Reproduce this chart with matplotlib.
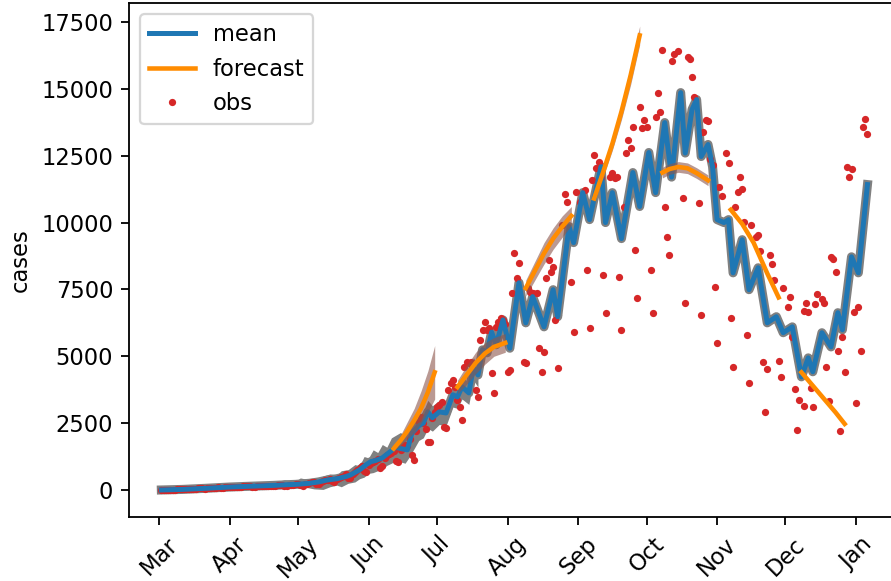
import numpy as np
import pandas as pd
import matplotlib
matplotlib.use('Agg')
import matplotlib.pyplot as plt
import matplotlib.dates as mdates

start = pd.Timestamp('2020-03-01')

# daily reported cases, Mon 2 Mar .. Sun 2 Aug (one row per week, Mon..Sun)
obs_early = [
    0, 5, 10, 10, 15, 10, 10,
    20, 25, 30, 35, 40, 30, 30,
    45, 50, 55, 60, 65, 50, 55,
    70, 75, 80, 90, 95, 75, 80,
    100, 105, 110, 120, 125, 100, 105,
    125, 130, 140, 145, 150, 120, 125,
    140, 150, 145, 160, 165, 130, 140,
    155, 160, 170, 175, 180, 140, 150,
    170, 185, 195, 205, 215, 170, 165,
    220, 240, 260, 280, 300, 230, 220,
    300, 330, 360, 390, 420, 320, 300,
    420, 460, 500, 540, 580, 450, 430,
    600, 680, 760, 820, 900, 700, 680,
    950, 1000, 1050, 1100, 1150, 820, 900,
    1200, 1300, 1350, 1400, 1450, 1100, 1050,
    1500, 1600, 1700, 1650, 1900, 1310, 1120,
    2200, 2550, 2730, 2500, 2280, 1800, 1800,
    2700, 2900, 3100, 3180, 3300, 2360, 2320,
    3740, 4000, 4120, 3860, 3370, 3110, 2620,
    4610, 4790, 4750, 4790, 4490, 3740, 3480,
    5620, 5990, 6290, 5990, 6070, 4380, 3630,
    6100, 6290, 6440, 6360, 6200, 4420, 4490,
]

# later reports (day after 1 Mar, cases)
obs_late_day = [
    155, 156, 157, 158, 160, 161, 162, 163, 164, 166, 167, 168, 169, 170,
    171, 172, 173, 174, 175, 177, 178, 179, 181, 182, 183, 185, 187, 188,
    189, 190, 191, 192, 193, 194, 195, 196, 198, 199, 200, 201, 202, 203,
    204, 205, 206, 207, 208, 209, 210, 211, 212, 213, 214, 216, 217, 218,
    219, 220, 221, 222, 223, 224, 225, 226, 228, 230, 231, 232, 233, 234,
    235, 237, 238, 239, 240, 241, 242, 243, 244, 245, 246, 247, 249, 250,
    251, 252, 253, 254, 255, 256, 257, 258, 259, 260, 262, 263, 264, 265,
    266, 267, 268, 269, 270, 272, 273, 274, 276, 277, 278, 279, 280, 281,
    283, 283, 284, 285, 286, 287, 288, 289, 291, 292, 293, 294, 295, 296,
    297, 298, 299, 300, 301, 302, 303, 304, 305, 306, 307, 308, 309, 310,
    311,
]
obs_late_val = [
    7380, 8870, 7940, 8500, 4790, 4750, 7560, 7410, 7380, 7380, 5320, 4420, 5170, 7940,
    8610, 8160, 8350, 6360, 4570, 9920, 11050, 10780, 7790, 5920, 11160, 10780, 11230, 8240,
    6070, 11610, 12540, 12050, 12280, 11680, 8050, 6630, 11720, 11870, 11680, 11700, 7970, 5990,
    10600, 12620, 13100, 12800, 13590, 8990, 7190, 14340, 13550, 13850, 13590, 8240, 6630, 13930,
    14860, 14150, 16440, 10600, 9470, 8800, 16060, 16290, 16400, 10930, 7000, 16180, 16100, 15460,
    14680, 10750, 6550, 13370, 13850, 13780, 12360, 12170, 7600, 5500, 11340, 11010, 12620, 12240,
    6440, 4610, 10600, 11160, 11720, 11270, 10030, 5800, 4000, 9920, 9470, 9550, 8950, 4790,
    2920, 4530, 8800, 8460, 7860, 4830, 4230, 7560, 6850, 7230, 5730, 3780, 2250, 3370,
    3150, 6700, 7000, 6660, 3820, 3110, 6960, 7340, 7150, 7000, 4610, 3330, 8720, 8650,
    8160, 5200, 2210, 5730, 4420, 12090, 11720, 12020, 6660, 3260, 6850, 5200, 13590, 13890,
    13330,
]

# fitted mean
mean_day = [1, 10, 20, 31, 40, 50, 57, 60, 66, 70, 74, 78, 82, 84, 88, 91, 93, 95, 98,
            101, 104, 106, 109, 111, 114, 116, 118, 120, 123, 126, 129, 131, 133, 136,
            138, 140, 142, 144, 146, 148, 151, 154, 158, 161, 164, 169, 173, 175, 180,
            182, 186, 189, 194, 196, 199, 203, 208, 211, 215, 218, 222, 225, 229, 231,
            234, 236, 238, 241, 243, 245, 248, 250, 252, 256, 259, 263, 267, 271, 274,
            278, 282, 285, 287, 291, 295, 298, 300, 304, 307, 311]
mean_val = [0, 20, 60, 110, 140, 170, 200, 210, 250, 300, 375, 420, 500, 560, 750, 950,
            1060, 1100, 1200, 1400, 1600, 1550, 1500, 2130, 2400, 2500, 2920, 2700, 2920,
            2880, 3560, 3480, 3860, 3630, 4600, 4300, 5240, 5130, 5900, 5430, 6360, 5300,
            7750, 6250, 7230, 6100, 7490, 6480, 9850, 9250, 11120, 10110, 12090, 10000,
            11120, 9400, 11870, 10600, 12620, 11120, 13740, 11700, 14860, 12600, 14230,
            14600, 12470, 12920, 12090, 10110, 10000, 10110, 8120, 9360, 7490, 8310, 6250,
            6480, 5880, 6100, 4230, 4940, 4420, 5880, 5350, 6630, 5990, 8720, 8120, 11420]

# spread of the sampled trajectories over spring and early summer
spread_day = [1, 20, 40, 50, 55, 60, 62, 65, 68, 72, 75, 78, 80, 83, 86, 88, 90, 92,
              94, 96, 98, 100, 102, 104, 106, 108, 110, 112, 114, 116, 118, 120, 123,
              126, 129, 131, 133, 136, 138, 140]
spread_lo = [-60, 10, 60, 90, 110, 100, 60, 90, 40, 20, 120, 180, 120, 250, 300, 420,
             480, 620, 650, 720, 780, 920, 1000, 1100, 1050, 1000, 1250, 1550, 1850, 1950,
             2300, 2200, 2450, 2400, 3100, 3050, 3400, 3200, 4100, 3850]
spread_hi = [60, 110, 220, 280, 380, 330, 450, 400, 300, 520, 600, 560, 720, 760, 950,
             900, 1250, 1200, 1500, 1400, 1700, 1600, 1950, 2050, 2150, 2000, 2350, 2600,
             2750, 2950, 3350, 3150, 3350, 3300, 3950, 3900, 4250, 4000, 4950, 4650]

# forecasts issued along the way: day, value, lower, upper
fc1_day = [103, 106, 109, 112, 115, 118, 121]
fc1_val = [1550, 1850, 2200, 2600, 3050, 3650, 4400]
fc1_lo = [1450, 1650, 1900, 2150, 2500, 2900, 3400]
fc1_hi = [1650, 2050, 2550, 3050, 3700, 4450, 5400]

fc2_day = [131, 135, 139, 143, 147, 152]
fc2_val = [3850, 4300, 4750, 5100, 5350, 5500]
fc2_lo = [3600, 3950, 4350, 4700, 5000, 5150]
fc2_hi = [4100, 4650, 5150, 5500, 5700, 5850]

fc3_day = [161, 165, 169, 173, 177, 181]
fc3_val = [7550, 8200, 8850, 9400, 9850, 10250]
fc3_lo = [7250, 7850, 8450, 9000, 9450, 9900]
fc3_hi = [7850, 8550, 9250, 9800, 10250, 10600]

fc4_day = [191, 195, 199, 203, 207, 211]
fc4_val = [10900, 11900, 12950, 14150, 15500, 17000]
fc4_lo = [10750, 11700, 12700, 13850, 15150, 16650]
fc4_hi = [11050, 12100, 13200, 14450, 15850, 17350]

fc5_day = [221, 224, 228, 232, 236, 241]
fc5_val = [11870, 12000, 12080, 12030, 11850, 11580]
fc5_lo = [11670, 11800, 11880, 11830, 11650, 11380]
fc5_hi = [12070, 12200, 12280, 12230, 12050, 11780]

fc6_day = [251, 256, 261, 267, 272]
fc6_val = [10480, 9950, 9250, 8100, 7200]
fc6_lo = [10420, 9890, 9190, 8040, 7140]
fc6_hi = [10540, 10010, 9310, 8160, 7260]

fc7_day = [282, 287, 292, 297, 301]
fc7_val = [4400, 3900, 3400, 2900, 2470]
fc7_lo = [4360, 3860, 3360, 2860, 2430]
fc7_hi = [4440, 3940, 3440, 2940, 2510]

yticks = [0, 2500, 5000, 7500, 10000, 12500, 15000, 17500]


def to_dates(days):
    return start + pd.to_timedelta(np.asarray(days, dtype=float), unit='D')


dpi = 163
fig = plt.figure(figsize=(891 / dpi, 581 / dpi), dpi=dpi)
ax = fig.add_axes([129 / 891, 64 / 581, 774 / 891, 514 / 581])

mean_x = to_dates(mean_day)
ax.fill_between(to_dates(spread_day), spread_lo, spread_hi, color='gray', lw=0, zorder=1)
ax.plot(mean_x, mean_val, color='gray', lw=4, zorder=1)

obs_x = to_dates(list(range(1, len(obs_early) + 1)) + obs_late_day)
obs_y = obs_early + obs_late_val
obs_line, = ax.plot(obs_x, obs_y, 'o', color='tab:red', ms=3.2, mew=0, zorder=2, label='obs')

mean_line, = ax.plot(mean_x, mean_val, color='tab:blue', lw=2.2, zorder=3, label='mean')

forecasts = [
    (fc1_day, fc1_val, fc1_lo, fc1_hi),
    (fc2_day, fc2_val, fc2_lo, fc2_hi),
    (fc3_day, fc3_val, fc3_lo, fc3_hi),
    (fc4_day, fc4_val, fc4_lo, fc4_hi),
    (fc5_day, fc5_val, fc5_lo, fc5_hi),
    (fc6_day, fc6_val, fc6_lo, fc6_hi),
    (fc7_day, fc7_val, fc7_lo, fc7_hi),
]
for d, v, lo, hi in forecasts:
    fx = to_dates(d)
    ax.fill_between(fx, lo, hi, color='#8c564b', alpha=0.6, lw=0, zorder=4)
    fc_line, = ax.plot(fx, v, color='darkorange', lw=2, zorder=5, label='forecast')

ax.set_xlim(to_dates([-13.2])[0], to_dates([326.6])[0])
ax.set_ylim(-1011, 18211)
ax.set_yticks(yticks)
ax.xaxis.set_major_locator(mdates.MonthLocator())
ax.xaxis.set_major_formatter(mdates.DateFormatter('%b'))
plt.setp(ax.get_xticklabels(), rotation=45)
ax.set_ylabel('cases')
ax.legend(handles=[mean_line, fc_line, obs_line], loc='upper left')

fig.savefig('out.png', dpi=dpi)
